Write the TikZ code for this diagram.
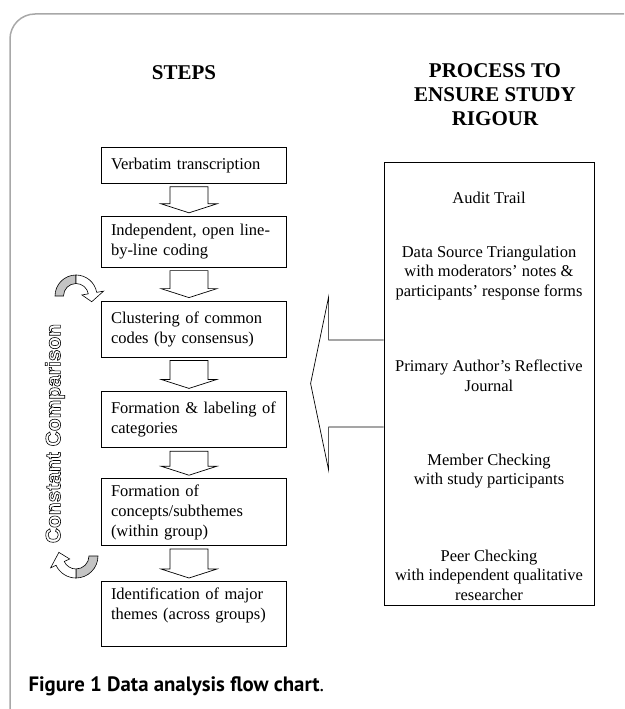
\documentclass[tikz,border=0pt]{standalone}
\usepackage{fontspec}
\setmainfont{Liberation Serif}
\newfontfamily\captionfont{PT Sans}
\newfontfamily\loopfont{Liberation Sans}
\usepackage{xcolor}
\usepackage{tikz}
\usetikzlibrary{calc, positioning}
\definecolor{framegray}{HTML}{A8A8A8}
\definecolor{loopgray}{HTML}{C4C4C4}
\newcommand{\hollowtext}[1]{\special{pdf:literal direct 1 Tr 0.6 w}#1\special{pdf:literal direct 0 Tr}}
\tikzstyle{stepbox} = [rectangle, 
draw=black, 
line width=0.8pt, 
minimum width=185pt, 
text width=165pt, 
inner xsep=10pt, 
inner ysep=4pt, 
align=left, 
font=\fontsize{16.5}{20}\selectfont]
\tikzstyle{heading} = [align=center, 
font=\fontsize{21}{24}\selectfont\bfseries]
\tikzstyle{rigourtext} = [align=center, 
font=\fontsize{16.5}{19.5}\selectfont]
\tikzstyle{hollow} = [draw=black, line width=0.7pt, fill=white]
\tikzstyle{loop} = [draw=black, line width=0.6pt]

\begin{document}
\begin{tikzpicture}[x=1pt, y=-1pt]
			\useasboundingbox (0,0) rectangle (624,709);
			\draw [framegray, line width=1.5pt] (10,709) -- (10,39) arc[start angle=180, end angle=270, radius=25] -- (624,14);
			
			\node (steps) [heading] at (184,72.5) {STEPS};
			\node (process) [heading] at (495,95) {PROCESS TO\\ENSURE STUDY\\RIGOUR};
			
			\node (verbatim) [stepbox, minimum height=36pt, anchor=north] at (193.5,147) {Verbatim transcription};
			\node (coding) [stepbox, minimum height=51pt, below=32pt] at (verbatim.south) {Independent, open line-\\by-line coding};
			\node (cluster) [stepbox, minimum height=56pt, below=33pt] at (coding.south) {Clustering of common\\codes (by consensus)};
			\node (categories) [stepbox, minimum height=56pt, below=34pt] at (cluster.south) {Formation \& labeling of\\categories};
			\node (concepts) [stepbox, minimum height=67pt, below=30pt] at (categories.south) {Formation of\\concepts/subthemes\\(within group)};
			\node (themes) [stepbox, minimum height=65pt, below=35pt] at (concepts.south) {Identification of major\\themes (across groups)\\ \mbox{}};
			
			\foreach \a/\b in {verbatim/coding, coding/cluster, cluster/categories, categories/concepts, concepts/themes}
				\draw [hollow] ($(\a.south)+(-23.5,3)$) -- ($(\b.north)+(-23.5,-12)$) -- ++(-9,0) -- ($(\b.north)+(-4.5,-3)$)
					-- ($(\b.north)+(23.5,-12)$) -- ++(-9,0) -- ($(\a.south)+(14.5,3)$) -- cycle;
			
			\node (rigour) [rectangle, draw=black, line width=0.8pt, minimum width=210pt, minimum height=443pt] at (489,383.5) {};
			\node (audit) [rigourtext] at (489,198) {Audit Trail};
			\node (triangulation) [rigourtext] at (489,273) {Data Source Triangulation\\with moderators' notes \&\\participants' response forms};
			\node (journal) [rigourtext] at (489,376) {Primary Author's Reflective\\Journal};
			\node (member) [rigourtext] at (489,471) {Member Checking\\with study participants};
			\node (peer) [rigourtext] at (489,575) {Peer Checking\\with independent qualitative\\researcher};
			
			\draw [hollow] ($(rigour.west)+(0,-43.5)$) -- ++(-55,0) -- ++(0,-43) -- ($(rigour.west)+(-73,0)$)
				-- ($(rigour.west)+(-55,86.5)$) -- ++(0,-43) -- ($(rigour.west)+(0,43.5)$);
			
			% constant comparison loop
			\node (constant) [rotate=90, font=\fontsize{21}{24}\selectfont\loopfont\bfseries] at (55,433.5) {\hollowtext{Constant Comparison}};
			\coordinate (loopTop) at (76,296);
			\filldraw [loop, fill=loopgray] ($(loopTop)+(180:21)$) arc[start angle=180, end angle=270, radius=21]
				-- ($(loopTop)+(270:12.5)$) arc[start angle=270, end angle=180, radius=12.5] -- cycle;
			\filldraw [loop, fill=white] ($(loopTop)+(270:21)$) arc[start angle=270, end angle=350, radius=21]
				-- ($(loopTop)+(350:28)$) -- ($(loopTop)+(20:16.75)$) -- ($(loopTop)+(350:6)$) -- ($(loopTop)+(350:12.5)$)
				arc[start angle=350, end angle=270, radius=12.5] -- cycle;
			\coordinate (loopBottom) at (76,556);
			\filldraw [loop, fill=loopgray] ($(loopBottom)+(0:22)$) arc[start angle=0, end angle=90, radius=22]
				-- ($(loopBottom)+(90:13)$) arc[start angle=90, end angle=0, radius=13] -- cycle;
			\filldraw [loop, fill=white] ($(loopBottom)+(90:22)$) arc[start angle=90, end angle=155, radius=22]
				-- ($(loopBottom)+(155:28)$) -- ($(loopBottom)+(192:17.5)$) -- ($(loopBottom)+(155:7)$) -- ($(loopBottom)+(155:13)$)
				arc[start angle=155, end angle=90, radius=13] -- cycle;
			
			\node (caption) [anchor=west, font=\fontsize{20.8}{22}\selectfont\captionfont] at (25,686) {\textbf{Figure 1 Data analysis flow chart}.};
		\end{tikzpicture}
\end{document}
